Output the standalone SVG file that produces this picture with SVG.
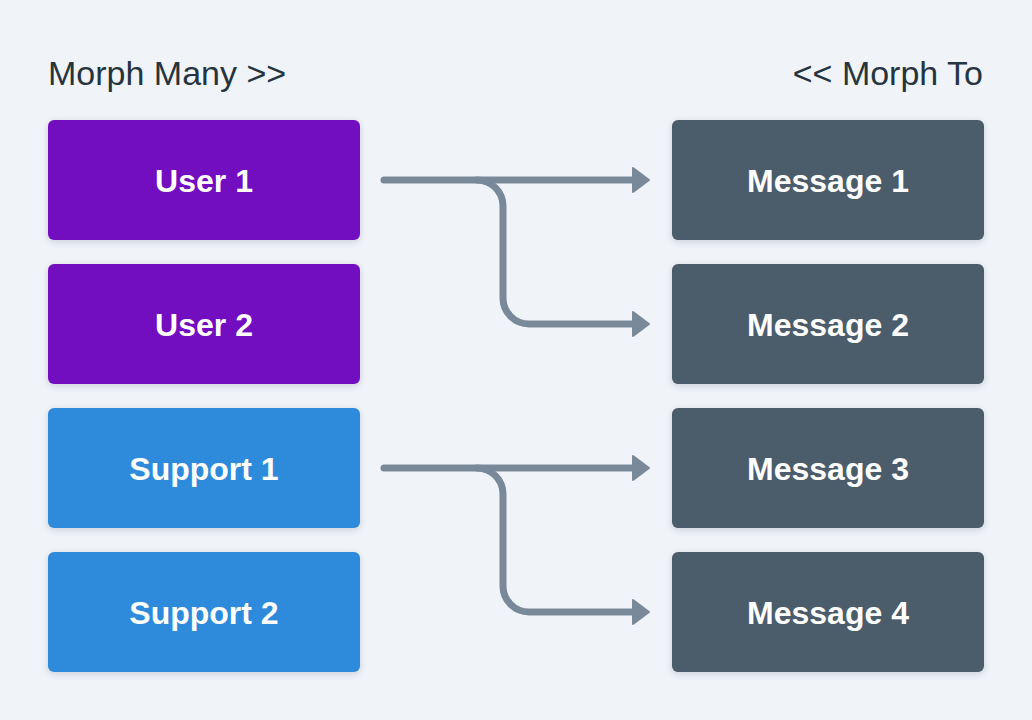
<svg xmlns="http://www.w3.org/2000/svg" width="1032" height="720" viewBox="0 0 1032 720">
<defs>
<filter id="sh" x="-10%" y="-10%" width="120%" height="130%">
<feDropShadow dx="0" dy="2" stdDeviation="3" flood-color="#1c2a38" flood-opacity="0.18"/>
</filter>
<style>
.title{font-family:"Liberation Sans",Arial,sans-serif;font-size:34px;fill:#26343f}
.lbl{font-family:"Liberation Sans",Arial,sans-serif;font-size:32px;font-weight:bold;fill:#ffffff;text-anchor:middle}
.box{filter:url(#sh)}
.user{fill:#7210c0}
.sup{fill:#2d8bdb}
.msg{fill:#4b5b6b}
.line{fill:none;stroke:#7a8999;stroke-width:7;stroke-linecap:round;stroke-linejoin:round}
.head{fill:#7a8999;stroke:#7a8999;stroke-width:2;stroke-linejoin:round}
</style>
</defs>
<rect width="1032" height="720" fill="#f0f4f8"/>
<text class="title" x="48" y="85">Morph Many &gt;&gt;</text>
<text class="title" x="983" y="85" text-anchor="end">&lt;&lt; Morph To</text>

<g id="user1"><rect class="box user" x="48" y="120" width="312" height="120" rx="6"/><text class="lbl" x="204" y="192">User 1</text></g>
<g id="user2"><rect class="box user" x="48" y="264" width="312" height="120" rx="6"/><text class="lbl" x="204" y="336">User 2</text></g>
<g id="support1"><rect class="box sup" x="48" y="408" width="312" height="120" rx="6"/><text class="lbl" x="204" y="480">Support 1</text></g>
<g id="support2"><rect class="box sup" x="48" y="552" width="312" height="120" rx="6"/><text class="lbl" x="204" y="624">Support 2</text></g>

<g id="message1"><rect class="box msg" x="672" y="120" width="312" height="120" rx="6"/><text class="lbl" x="828" y="192">Message 1</text></g>
<g id="message2"><rect class="box msg" x="672" y="264" width="312" height="120" rx="6"/><text class="lbl" x="828" y="336">Message 2</text></g>
<g id="message3"><rect class="box msg" x="672" y="408" width="312" height="120" rx="6"/><text class="lbl" x="828" y="480">Message 3</text></g>
<g id="message4"><rect class="box msg" x="672" y="552" width="312" height="120" rx="6"/><text class="lbl" x="828" y="624">Message 4</text></g>

<g id="connectors">
<path class="line" d="M384 180 H634"/>
<path class="line" d="M477 180 A26 26 0 0 1 503 206 V298 A26 26 0 0 0 529 324 H634"/>
<polygon class="head" points="633,168 649,180 633,192"/>
<polygon class="head" points="633,312 649,324 633,336"/>
<path class="line" d="M384 468 H634"/>
<path class="line" d="M477 468 A26 26 0 0 1 503 494 V586 A26 26 0 0 0 529 612 H634"/>
<polygon class="head" points="633,456 649,468 633,480"/>
<polygon class="head" points="633,600 649,612 633,624"/>
</g>
</svg>
